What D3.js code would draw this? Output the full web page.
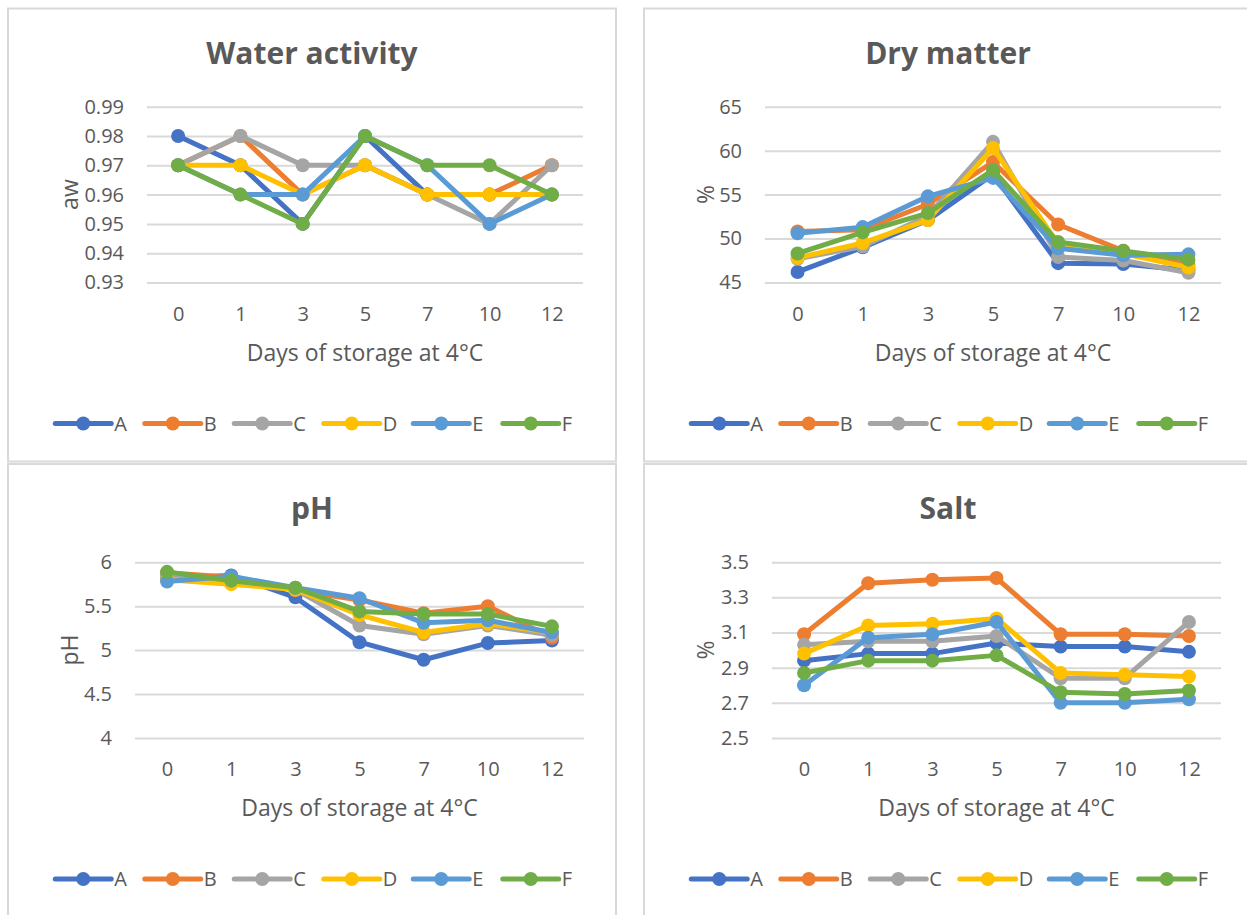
<!DOCTYPE html>
<html>
<head>
<meta charset="utf-8">
<script src="https://cdn.jsdelivr.net/npm/d3@7"></script>
<style>
  body { margin: 0; background: #fff; }
  text { font-family: "Open Sans", sans-serif; fill: #595959; }
</style>
</head>
<body>
<svg width="1247" height="915"></svg>
<script>
const days = ["0", "1", "3", "5", "7", "10", "12"];
const seriesNames = ["A", "B", "C", "D", "E", "F"];
const seriesColors = ["#4472C4", "#ED7D31", "#A5A5A5", "#FFC000", "#5B9BD5", "#70AD47"];

// one row per series A..F
const waterActivity = [
  [0.98, 0.97, 0.95, 0.98, 0.96, 0.96, 0.96],
  [0.97, 0.98, 0.96, 0.97, 0.96, 0.96, 0.97],
  [0.97, 0.98, 0.97, 0.97, 0.96, 0.95, 0.97],
  [0.97, 0.97, 0.96, 0.97, 0.96, 0.96, 0.96],
  [0.97, 0.96, 0.96, 0.98, 0.97, 0.95, 0.96],
  [0.97, 0.96, 0.95, 0.98, 0.97, 0.97, 0.96]
];
const dryMatter = [
  [46.2, 49.0, 52.1, 57.3, 47.2, 47.1, 46.4],
  [50.8, 51.0, 53.9, 58.7, 51.6, 48.6, 47.0],
  [47.7, 49.1, 52.6, 61.0, 47.9, 47.5, 46.1],
  [47.8, 49.5, 52.1, 60.3, 49.4, 48.3, 46.7],
  [50.6, 51.3, 54.8, 56.9, 48.9, 48.1, 48.2],
  [48.3, 50.7, 52.9, 57.8, 49.6, 48.6, 47.6]
];
const pH = [
  [5.82, 5.85, 5.60, 5.09, 4.89, 5.08, 5.11],
  [5.88, 5.83, 5.68, 5.57, 5.42, 5.50, 5.14],
  [5.85, 5.80, 5.69, 5.28, 5.18, 5.28, 5.17],
  [5.80, 5.75, 5.69, 5.40, 5.20, 5.30, 5.20],
  [5.78, 5.84, 5.71, 5.59, 5.31, 5.34, 5.20],
  [5.89, 5.79, 5.71, 5.44, 5.41, 5.41, 5.27]
];
const salt = [
  [2.94, 2.98, 2.98, 3.04, 3.02, 3.02, 2.99],
  [3.09, 3.38, 3.40, 3.41, 3.09, 3.09, 3.08],
  [3.03, 3.05, 3.05, 3.08, 2.84, 2.84, 3.16],
  [2.98, 3.14, 3.15, 3.18, 2.87, 2.86, 2.85],
  [2.80, 3.07, 3.09, 3.16, 2.70, 2.70, 2.72],
  [2.87, 2.94, 2.94, 2.97, 2.76, 2.75, 2.77]
];

const awTicks = [0.93, 0.94, 0.95, 0.96, 0.97, 0.98, 0.99];
const dmTicks = [45, 50, 55, 60, 65];
const phTicks = [4, 4.5, 5, 5.5, 6];
const saltTicks = [2.5, 2.7, 2.9, 3.1, 3.3, 3.5];

const xTitle = "Days of storage at 4°C";

const svg = d3.select("svg");

// panel frames: x, y of the box, plot left / right edges
const panels = [
  { title: "Water activity", yTitle: "aw", data: waterActivity, ticks: awTicks, fmt: d3.format(".2f"),
    bx: 8, by: 8.5, left: 147, right: 583 },
  { title: "Dry matter", yTitle: "%", data: dryMatter, ticks: dmTicks, fmt: d3.format("d"),
    bx: 644, by: 8.5, left: 765, right: 1221 },
  { title: "pH", yTitle: "pH", data: pH, ticks: phTicks, fmt: d => String(d),
    bx: 8, by: 464, left: 135, right: 584 },
  { title: "Salt", yTitle: "%", data: salt, ticks: saltTicks, fmt: d3.format(".1f"),
    bx: 644, by: 464, left: 772, right: 1221 }
];

const boxW = 608, boxH = 453;

panels.forEach(p => {
  const g = svg.append("g");
  const top = p.by + 98.2, bottom = p.by + 274;
  const cx = p.bx + boxW / 2;

  g.append("rect")
    .attr("x", p.bx).attr("y", p.by)
    .attr("width", boxW).attr("height", boxH)
    .attr("fill", "#fff")
    .attr("stroke", "#d9d9d9")
    .attr("stroke-width", 2);

  const x = d3.scalePoint().domain(days).range([p.left, p.right]).padding(0.5);
  const y = d3.scaleLinear().domain(d3.extent(p.ticks)).range([bottom, top]);

  // y axis with gridlines
  const ya = g.append("g")
    .attr("transform", `translate(${p.left},0)`)
    .call(d3.axisLeft(y).tickValues(p.ticks).tickFormat(p.fmt)
      .tickSize(-(p.right - p.left)).tickPadding(23));
  ya.select(".domain").remove();
  ya.selectAll("line").attr("stroke", "#d9d9d9").attr("stroke-width", 2);
  ya.selectAll("text").style("font-size", "20px").attr("fill", "#595959");
  ya.attr("font-family", null).attr("font-size", null);

  // x axis labels
  const xa = g.append("g")
    .attr("transform", `translate(0,${bottom})`)
    .call(d3.axisBottom(x).tickSize(0).tickPadding(24));
  xa.select(".domain").remove();
  xa.selectAll("text").style("font-size", "20px").attr("fill", "#595959");
  xa.attr("font-family", null).attr("font-size", null);

  // titles
  g.append("text")
    .attr("x", cx).attr("y", p.by + 55)
    .attr("text-anchor", "middle")
    .style("font-size", "30px").style("font-weight", "bold")
    .text(p.title);

  g.append("text")
    .attr("x", (p.left + p.right) / 2).attr("y", bottom + 78)
    .attr("text-anchor", "middle")
    .style("font-size", "23px")
    .text(xTitle);

  g.append("text")
    .attr("transform", `translate(${p.bx + 62},${(top + bottom) / 2}) rotate(-90)`)
    .attr("text-anchor", "middle").attr("dy", "0.35em")
    .style("font-size", "23px")
    .text(p.yTitle);

  // series
  const line = d3.line().x((d, i) => x(days[i])).y(d => y(d));
  p.data.forEach((vals, s) => {
    g.append("path")
      .datum(vals)
      .attr("d", line)
      .attr("fill", "none")
      .attr("stroke", seriesColors[s])
      .attr("stroke-width", 5)
      .attr("stroke-linejoin", "round");
    g.selectAll(null)
      .data(vals)
      .join("circle")
      .attr("cx", (d, i) => x(days[i]))
      .attr("cy", d => y(d))
      .attr("r", 7)
      .attr("fill", seriesColors[s]);
  });

  // legend
  const step = 89.5, lw = 56;
  const legW = step * 5 + lw + 16;
  const lg = g.append("g")
    .attr("transform", `translate(${cx - legW / 2 + 3},${bottom + 141})`);
  seriesNames.forEach((name, s) => {
    const it = lg.append("g").attr("transform", `translate(${s * step},0)`);
    it.append("line")
      .attr("x1", 0).attr("x2", lw)
      .attr("stroke", seriesColors[s]).attr("stroke-width", 5)
      .attr("stroke-linecap", "round");
    it.append("circle").attr("cx", lw / 2).attr("r", 7).attr("fill", seriesColors[s]);
    it.append("text")
      .attr("x", lw + 3).attr("dy", "0.35em")
      .style("font-size", "20px")
      .text(name);
  });
});
</script>
</body>
</html>
